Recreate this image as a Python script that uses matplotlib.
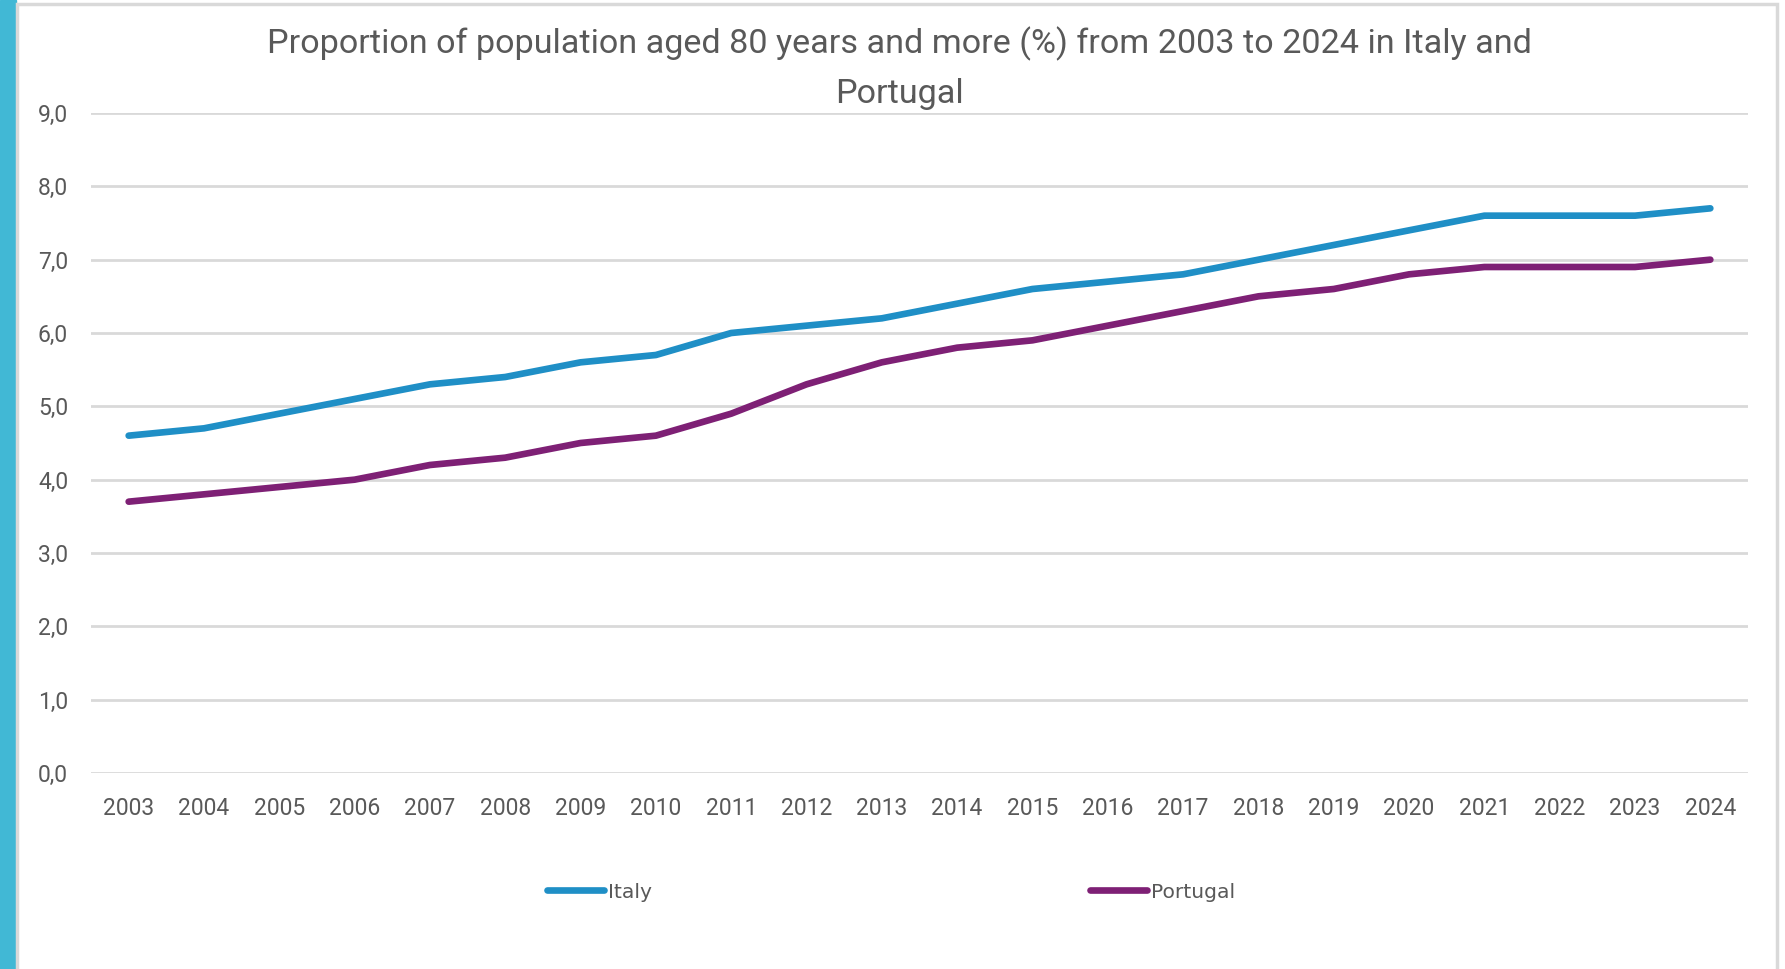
import matplotlib
matplotlib.use("Agg")
import matplotlib.pyplot as plt
from matplotlib.patches import Rectangle

years = [str(y) for y in range(2003, 2025)]
italy = [4.6, 4.7, 4.9, 5.1, 5.3, 5.4, 5.6, 5.7, 6.0, 6.1, 6.2, 6.4, 6.6, 6.7, 6.8, 7.0, 7.2, 7.4, 7.6, 7.6, 7.6, 7.7]
portugal = [3.7, 3.8, 3.9, 4.0, 4.2, 4.3, 4.5, 4.6, 4.9, 5.3, 5.6, 5.8, 5.9, 6.1, 6.3, 6.5, 6.6, 6.8, 6.9, 6.9, 6.9, 7.0]
yticks = [0, 1, 2, 3, 4, 5, 6, 7, 8, 9]
title = "Proportion of population aged 80 years and more (%) from 2003 to 2024 in Italy and\nPortugal"

W, H = 1785, 969
fig = plt.figure(figsize=(W / 100, H / 100), dpi=100)
fig.patch.set_facecolor("white")

# left accent bar and frame
fig.add_artist(Rectangle((0, 0), 16 / W, 1, transform=fig.transFigure, color="#41B8D5", zorder=0))
fig.add_artist(Rectangle((17 / W, -0.05), (1777 - 17) / W, (969 - 4) / H + 0.05, transform=fig.transFigure,
                         fill=False, edgecolor="#D9D9D9", linewidth=2.5, zorder=0))

ax = fig.add_axes([91 / W, 1 - 773 / H, (1748 - 91) / W, (773 - 113) / H])
x = list(range(len(years)))
ax.plot(x, italy, color="#1F8FC6", linewidth=4.8, solid_capstyle="round", solid_joinstyle="round", label="Italy")
ax.plot(x, portugal, color="#7E2075", linewidth=4.8, solid_capstyle="round", solid_joinstyle="round", label="Portugal")

ax.set_xlim(-0.5, len(years) - 0.5)
ax.set_ylim(0, 9)
ax.set_yticks(yticks)
ax.set_yticklabels([f"{v:.1f}".replace(".", ",") for v in yticks])
ax.set_xticks(x)
ax.set_xticklabels(years)
ax.grid(axis="y", color="#D9D9D9", linewidth=2)
ax.set_axisbelow(True)
for s in ax.spines.values():
    s.set_visible(False)
ax.tick_params(axis="both", length=0, labelcolor="#595959", labelsize=16.5)
ax.tick_params(axis="y", pad=16.5)
ax.tick_params(axis="x", pad=17)
for lbl in ax.get_xticklabels() + ax.get_yticklabels():
    lbl.set_family(["Roboto", "DejaVu Sans"])

fig.text(899 / W, 1 - 68 / H, title, ha="center", va="center", fontsize=24.6, color="#595959",
         family=["Roboto", "DejaVu Sans"], linespacing=1.68)

leg = ax.legend(loc="center", bbox_to_anchor=(891 / W, 1 - 892 / H), bbox_transform=fig.transFigure,
                ncol=2, frameon=False, handlelength=2.8, handletextpad=0.2, columnspacing=21.6,
                prop={"family": ["Liberation Sans Narrow", "DejaVu Sans"], "size": 14.6})
for t in leg.get_texts():
    t.set_color("#595959")

fig.savefig("out.png", dpi=100, facecolor="white")
